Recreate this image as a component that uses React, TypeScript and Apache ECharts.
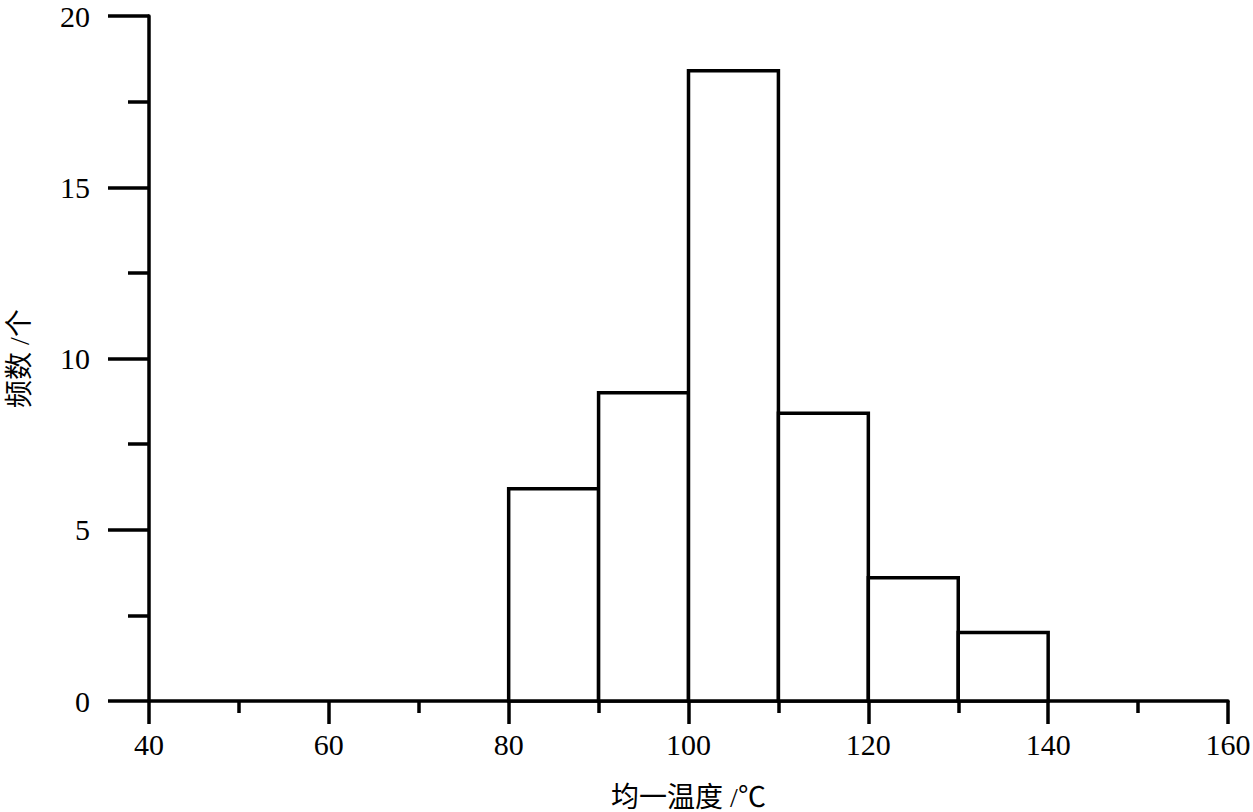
import React, { useEffect, useRef } from "react";
import * as echarts from "echarts";

const binStarts = [80, 90, 100, 110, 120, 130];
const binEnds = [90, 100, 110, 120, 130, 140];
const frequencies = [6.2, 9.0, 18.4, 8.4, 3.6, 2.0];
const xAxisName = "均一温度 /℃";
const yAxisName = "频数 /个";

const FONT = "'Liberation Serif', 'Noto Sans CJK SC', serif";
const LW = 3.5;

export default function App() {
  const ref = useRef<HTMLDivElement>(null);
  useEffect(() => {
    if (!ref.current) return;
    const chart = echarts.init(ref.current, undefined, { renderer: "svg" });
    const data = binStarts.map((s, i) => [s, binEnds[i], frequencies[i]]);
    const axisCommon = {
      axisLine: { show: true, onZero: false, lineStyle: { color: "#000", width: LW } },
      splitLine: { show: false },
      axisLabel: { color: "#000", fontSize: 30, fontFamily: FONT },
      nameTextStyle: { color: "#000", fontSize: 28, fontFamily: FONT },
    };
    chart.setOption({
      animation: false,
      backgroundColor: "#fff",
      grid: {
        left: 149,
        right: 25,
        top: 16,
        bottom: 111,
        containLabel: false,
        outerBoundsMode: "none",
      },
      xAxis: {
        type: "value",
        min: 40,
        max: 160,
        interval: 20,
        ...axisCommon,
        axisTick: { show: true, length: 23, lineStyle: { color: "#000", width: LW } },
        minorTick: { show: true, splitNumber: 2, length: 12, lineStyle: { color: "#000", width: LW } },
        axisLabel: { ...axisCommon.axisLabel, margin: 28 },
        name: xAxisName,
        nameLocation: "middle",
        nameGap: 82,
      },
      yAxis: {
        type: "value",
        min: 0,
        max: 20,
        interval: 5,
        ...axisCommon,
        axisTick: { show: true, length: 41, lineStyle: { color: "#000", width: LW } },
        minorTick: { show: true, splitNumber: 2, length: 21, lineStyle: { color: "#000", width: LW } },
        axisLabel: { ...axisCommon.axisLabel, margin: 59, lineHeight: 26 },
        name: yAxisName,
        nameLocation: "middle",
        nameRotate: 90,
        nameGap: 116,
      },
      series: [
        {
          type: "custom",
          data,
          encode: { x: [0, 1], y: 2 },
          renderItem: (params: any, api: any) => {
            const s = api.value(0);
            const e = api.value(1);
            const v = api.value(2);
            const tl = api.coord([s, v]);
            const br = api.coord([e, 0]);
            return {
              type: "rect",
              shape: { x: tl[0], y: tl[1], width: br[0] - tl[0], height: br[1] - tl[1] },
              style: { fill: "#fff", stroke: "#000", lineWidth: LW },
            };
          },
        },
      ],
    });
    return () => chart.dispose();
  }, []);
  return (
    <div
      ref={ref}
      style={{ position: "absolute", left: 0, top: 0, width: 1253, height: 812 }}
    />
  );
}
